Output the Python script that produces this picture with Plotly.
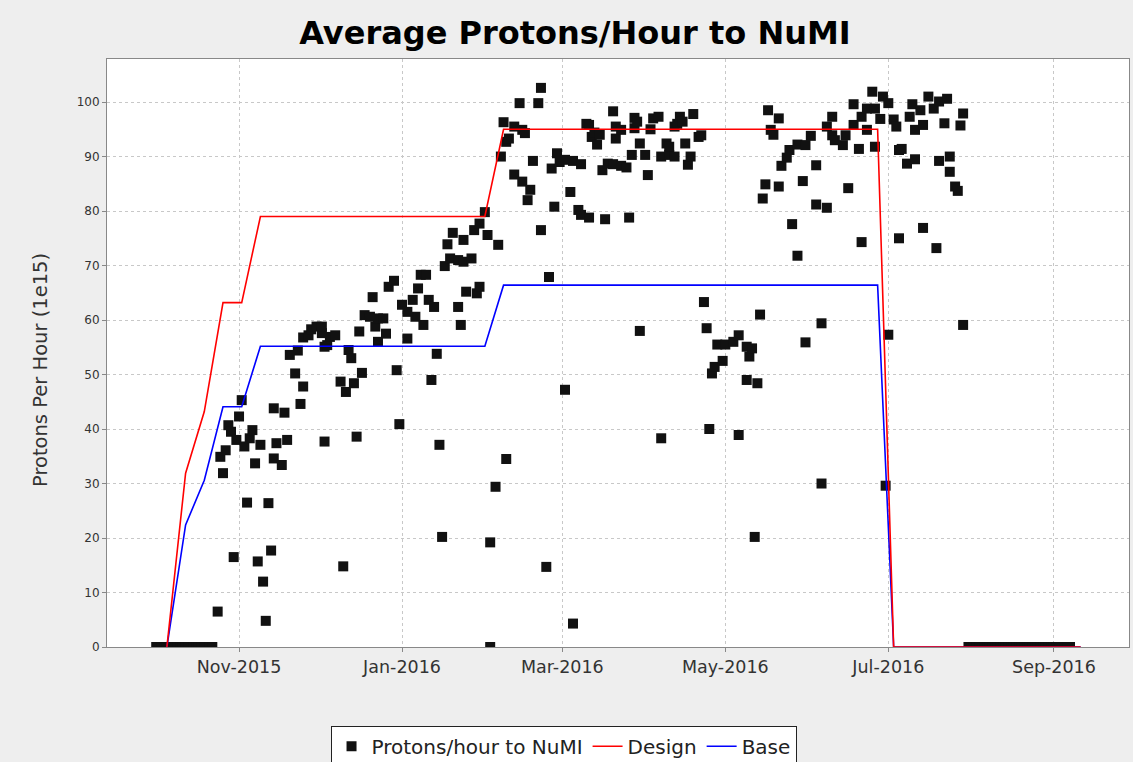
import plotly.graph_objects as go

# ---------------- data ----------------
proton_dates = [
    # late Oct 2015 start-up
    "2015-10-24", "2015-10-25", "2015-10-26", "2015-10-27", "2015-10-28", "2015-10-29",
    "2015-10-30", "2015-10-31",
    # Nov 2015
    "2015-11-01", "2015-11-02", "2015-11-03", "2015-11-04", "2015-11-05", "2015-11-06",
    "2015-11-07", "2015-11-08", "2015-11-09", "2015-11-10", "2015-11-11", "2015-11-12",
    "2015-11-13", "2015-11-14", "2015-11-14", "2015-11-15", "2015-11-17", "2015-11-18",
    "2015-11-19", "2015-11-20", "2015-11-22", "2015-11-23", "2015-11-24", "2015-11-25",
    "2015-11-25", "2015-11-27", "2015-11-28", "2015-11-30",
    # Dec 2015
    "2015-12-02", "2015-12-02", "2015-12-03", "2015-12-03", "2015-12-04", "2015-12-05",
    "2015-12-07", "2015-12-09", "2015-12-10", "2015-12-11", "2015-12-12", "2015-12-13",
    "2015-12-14", "2015-12-15", "2015-12-16", "2015-12-17", "2015-12-18", "2015-12-20",
    "2015-12-21", "2015-12-22", "2015-12-23", "2015-12-23", "2015-12-25", "2015-12-26",
    "2015-12-27", "2015-12-29", "2015-12-30", "2015-12-31",
    # Jan 2016
    "2016-01-01", "2016-01-03", "2016-01-03", "2016-01-05", "2016-01-06", "2016-01-07",
    "2016-01-08", "2016-01-09", "2016-01-10", "2016-01-11", "2016-01-12", "2016-01-13",
    "2016-01-14", "2016-01-15", "2016-01-16", "2016-01-17", "2016-01-18", "2016-01-19",
    "2016-01-20", "2016-01-22", "2016-01-22", "2016-01-23", "2016-01-24", "2016-01-24",
    "2016-01-25", "2016-01-27", "2016-01-28", "2016-01-29", "2016-01-30", "2016-01-30",
    # Feb 2016
    "2016-02-01", "2016-02-02", "2016-02-03", "2016-02-03", "2016-02-05", "2016-02-06",
    "2016-02-07", "2016-02-08", "2016-02-09", "2016-02-09", "2016-02-10", "2016-02-12",
    "2016-02-12", "2016-02-14", "2016-02-15", "2016-02-15", "2016-02-16", "2016-02-17",
    "2016-02-18", "2016-02-19", "2016-02-21", "2016-02-22", "2016-02-22", "2016-02-24",
    "2016-02-25", "2016-02-26", "2016-02-27", "2016-02-28", "2016-02-29",
    # Mar 2016
    "2016-03-02", "2016-03-02", "2016-03-04", "2016-03-05", "2016-03-05", "2016-03-07",
    "2016-03-08", "2016-03-08", "2016-03-10", "2016-03-11", "2016-03-11", "2016-03-12",
    "2016-03-13", "2016-03-14", "2016-03-15", "2016-03-16", "2016-03-17", "2016-03-18",
    "2016-03-20", "2016-03-20", "2016-03-21", "2016-03-21", "2016-03-23", "2016-03-23",
    "2016-03-25", "2016-03-26", "2016-03-27", "2016-03-28", "2016-03-28", "2016-03-29",
    "2016-03-30", "2016-03-30",
    # Apr 2016
    "2016-04-01", "2016-04-02", "2016-04-03", "2016-04-04", "2016-04-06", "2016-04-07",
    "2016-04-07", "2016-04-09", "2016-04-10", "2016-04-10", "2016-04-12", "2016-04-12",
    "2016-04-13", "2016-04-14", "2016-04-15", "2016-04-16", "2016-04-17", "2016-04-18",
    "2016-04-19", "2016-04-21", "2016-04-22", "2016-04-23", "2016-04-24", "2016-04-25",
    "2016-04-26", "2016-04-27", "2016-04-28", "2016-04-30",
    # May 2016
    "2016-05-01", "2016-05-04", "2016-05-06", "2016-05-06", "2016-05-09", "2016-05-09",
    "2016-05-10", "2016-05-11", "2016-05-12", "2016-05-13", "2016-05-14", "2016-05-15",
    "2016-05-16", "2016-05-17", "2016-05-18", "2016-05-19", "2016-05-21", "2016-05-21",
    "2016-05-22", "2016-05-24", "2016-05-25", "2016-05-26", "2016-05-28", "2016-05-28",
    "2016-05-30", "2016-05-31", "2016-05-31",
    # Jun 2016
    "2016-06-02", "2016-06-04", "2016-06-04", "2016-06-06", "2016-06-06", "2016-06-08",
    "2016-06-08", "2016-06-10", "2016-06-10", "2016-06-11", "2016-06-14", "2016-06-15",
    "2016-06-16", "2016-06-18", "2016-06-18", "2016-06-20", "2016-06-21", "2016-06-21",
    "2016-06-23", "2016-06-23", "2016-06-25", "2016-06-26", "2016-06-26", "2016-06-28",
    "2016-06-29", "2016-06-30",
    # Jul 2016
    "2016-07-01", "2016-07-01", "2016-07-03", "2016-07-04", "2016-07-05", "2016-07-05",
    "2016-07-06", "2016-07-08", "2016-07-09", "2016-07-10", "2016-07-11", "2016-07-11",
    "2016-07-13", "2016-07-14", "2016-07-14", "2016-07-16", "2016-07-18", "2016-07-19",
    "2016-07-20", "2016-07-20", "2016-07-22", "2016-07-23", "2016-07-24", "2016-07-24",
    "2016-07-26", "2016-07-27", "2016-07-28", "2016-07-29", "2016-07-29",
]
proton_values = [
    6.5, 34.9, 31.9, 36.1, 40.7, 39.5,
    16.5, 38.0,
    42.3, 45.3, 36.8, 26.5, 38.3, 39.8,
    33.7, 15.7, 37.1, 12.0, 4.8, 26.4,
    17.7, 34.6, 43.8, 37.4, 33.4, 43.0,
    38.0, 53.6, 50.2, 54.4, 44.6, 47.8,
    56.8, 57.2, 58.3, 58.8,
    57.6, 58.8, 37.7, 55.1, 55.4, 56.9,
    57.2, 48.7, 14.8, 46.8, 54.5, 53.0,
    48.4, 38.6, 57.9, 50.3, 60.9, 60.6,
    64.2, 58.8, 60.3, 56.0, 60.3, 57.5,
    66.1, 67.2, 50.8, 40.9,
    62.8, 56.6, 61.5, 63.7, 60.6, 65.8,
    68.3, 59.1, 68.3, 63.7, 49.0, 62.4,
    53.8, 37.1, 20.2, 69.9, 73.9, 71.3,
    76.0, 71.0, 62.4, 59.1, 70.7, 74.7,
    65.2, 71.3, 76.5, 64.9, 66.1, 77.7,
    79.8, 75.6, 19.2, 0.0, 29.4, 73.8,
    90.0, 96.3, 92.7, 34.5, 93.3, 95.5,
    86.7, 99.8, 94.9, 85.4, 94.3, 82.0,
    83.9, 89.2, 99.8, 102.6, 76.5, 14.7,
    67.9, 87.8, 80.8, 90.6, 89.0,
    47.2, 89.4, 83.5, 89.2, 4.3, 80.2,
    79.3, 88.6, 96.0, 78.8, 95.8, 93.6,
    94.4, 92.2, 94.0, 87.5, 78.5, 88.7,
    88.6, 98.3, 95.5, 93.3, 88.3, 94.9,
    88.0, 78.8, 90.3, 97.1, 95.2, 96.4,
    92.4, 58.0,
    90.3, 86.6, 95.0, 97.0, 97.3, 38.3,
    90.0, 92.4, 90.3, 91.8, 90.0, 95.5,
    96.0, 97.3, 96.4, 92.4, 88.5, 90.0,
    97.8, 93.6, 93.9, 63.3, 58.5, 40.0,
    50.2, 51.4, 55.5, 52.5,
    55.5, 56.0, 57.2, 38.9, 49.0, 55.1,
    53.3, 54.8, 20.2, 48.4, 61.0, 82.3,
    84.9, 98.5, 94.9, 94.0, 84.5, 97.0,
    88.3, 89.8, 91.2, 77.6, 71.8, 92.2,
    85.5, 55.9, 92.1,
    93.8, 88.4, 81.2, 59.4, 30.0, 80.6,
    95.5, 93.9, 97.3, 93.0, 92.1, 93.9,
    84.2, 99.6, 95.8, 91.4, 74.3, 97.3,
    98.8, 94.9, 101.9, 91.8, 98.8, 96.9,
    101.0, 29.6,
    99.8, 57.3, 96.8, 95.5, 75.0, 91.2,
    91.4, 88.7, 97.3, 99.6, 89.5, 94.9,
    98.5, 95.8, 76.9, 101.0, 98.8, 73.2,
    100.1, 89.2, 96.1, 100.6, 87.2, 90.0,
    84.5, 83.7, 95.7, 97.9, 59.1,
]

# days with no beam (plotted at zero)
zero_dates = [
    "2015-10-01", "2015-10-02", "2015-10-03", "2015-10-04", "2015-10-05", "2015-10-06",
    "2015-10-07", "2015-10-08", "2015-10-09", "2015-10-10", "2015-10-11", "2015-10-12",
    "2015-10-13", "2015-10-14", "2015-10-15", "2015-10-16", "2015-10-17", "2015-10-18",
    "2015-10-19", "2015-10-20", "2015-10-21", "2015-10-22",
    "2016-07-31", "2016-08-01", "2016-08-02", "2016-08-03", "2016-08-04", "2016-08-05",
    "2016-08-06", "2016-08-07", "2016-08-08", "2016-08-09", "2016-08-10", "2016-08-11",
    "2016-08-12", "2016-08-13", "2016-08-14", "2016-08-15", "2016-08-16", "2016-08-17",
    "2016-08-18", "2016-08-19", "2016-08-20", "2016-08-21", "2016-08-22", "2016-08-23",
    "2016-08-24", "2016-08-25", "2016-08-26", "2016-08-27", "2016-08-28", "2016-08-29",
    "2016-08-30", "2016-08-31", "2016-09-01", "2016-09-02", "2016-09-03", "2016-09-04",
    "2016-09-05", "2016-09-06", "2016-09-07",
]
zero_values = [0.0] * len(zero_dates)

plan_dates = ["2015-10-05", "2015-10-12", "2015-10-19", "2015-10-26", "2015-11-02",
              "2015-11-09", "2016-02-01", "2016-02-08", "2016-06-27", "2016-07-03",
              "2016-09-11"]
design_values = [0, 31.9, 43.2, 63.2, 63.2, 79.0, 79.0, 95.0, 95.0, 0, 0]
base_values = [0, 22.4, 30.6, 44.1, 44.1, 55.2, 55.2, 66.4, 66.4, 0, 0]

x_tick_vals = ["2015-11-01", "2016-01-01", "2016-03-01", "2016-05-01", "2016-07-01", "2016-09-01"]
x_tick_text = ["Nov-2015", "Jan-2016", "Mar-2016", "May-2016", "Jul-2016", "Sep-2016"]
y_tick_vals = [0, 10, 20, 30, 40, 50, 60, 70, 80, 90, 100]

all_dates = zero_dates[:22] + proton_dates + zero_dates[22:]
all_values = zero_values[:22] + proton_values + zero_values[22:]

# ---------------- figure ----------------
FONT = "DejaVu Sans"
fig = go.Figure()

fig.add_trace(go.Scatter(
    x=all_dates, y=all_values, mode="markers", name="Protons/hour to NuMI",
    marker=dict(symbol="square", size=10, color="#111111", line=dict(width=0)),
    legendrank=1,
))
fig.add_trace(go.Scatter(
    x=plan_dates, y=base_values, mode="lines", name="Base",
    line=dict(color="#0000FF", width=1.6), legendrank=3,
))
fig.add_trace(go.Scatter(
    x=plan_dates, y=design_values, mode="lines", name="Design",
    line=dict(color="#FF0000", width=1.6), legendrank=2,
))

grid = dict(showgrid=True, gridcolor="#C8C8C8", gridwidth=1, griddash="3px,3px")

fig.update_layout(
    width=1133, height=762,
    paper_bgcolor="#EEEEEE", plot_bgcolor="#FFFFFF",
    margin=dict(l=107, r=4, t=59, b=115, autoexpand=False),
    font=dict(family=FONT, color="#333333"),
    title=dict(text="<b>Average Protons/Hour to NuMI</b>", x=0.5075, xref="container",
               xanchor="center", y=1 - 33 / 762, yanchor="middle",
               font=dict(family=FONT, size=32, color="#000000")),
    xaxis=dict(type="date", range=["2015-09-12 14:00", "2016-09-29 02:00"],
               tickvals=x_tick_vals, ticktext=x_tick_text,
               ticks="outside", ticklen=4, tickcolor="#888888",
               tickfont=dict(family=FONT, size=17.5, color="#333333"),
               showline=True, linecolor="#888888", linewidth=1, mirror=True,
               zeroline=False, **grid),
    yaxis=dict(range=[0, 107.9], tickvals=y_tick_vals,
               ticks="outside", ticklen=4, tickcolor="#888888",
               tickfont=dict(family=FONT, size=12, color="#333333"),
               showline=True, linecolor="#888888", linewidth=1, mirror=True,
               zeroline=False, **grid),
    legend=dict(orientation="h", x=0.4467, xanchor="center", y=-0.134, yanchor="top",
                bgcolor="#FFFFFF", bordercolor="#222222", borderwidth=1,
                font=dict(family=FONT, size=20, color="#222222"),
                itemwidth=30, tracegroupgap=0, traceorder="normal"),
    showlegend=True,
    annotations=[dict(text="Protons Per Hour (1e15)", textangle=-90,
                      x=(40 - 107) / 1022, y=(647 - 370) / 588,
                      xanchor="center", yanchor="middle",
                      xref="paper", yref="paper", showarrow=False,
                      font=dict(family=FONT, size=19.5, color="#333333"))],
)

fig.write_html(
    "out.html",
    config={"displayModeBar": False},
    post_script=(
        "var gd=document.getElementById('{plot_id}');"
        "gd.style.position='fixed';gd.style.left='0px';gd.style.top='0px';"
        "document.body.style.margin='0';document.body.style.background='#EEEEEE';"
        "document.documentElement.style.overflow='hidden';"
    ),
)
